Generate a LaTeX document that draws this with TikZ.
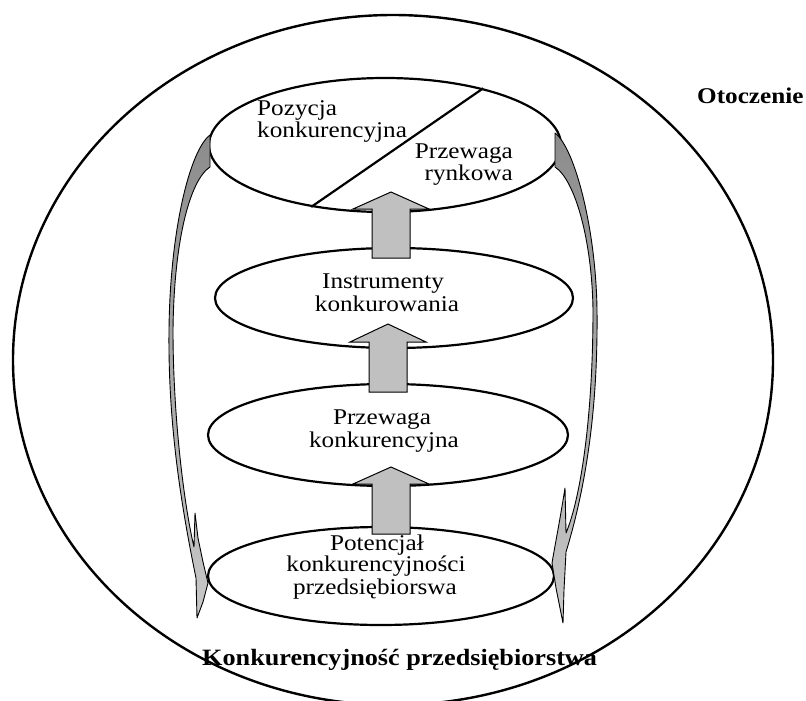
\documentclass[tikz,border=0pt]{standalone}
\usepackage{fontspec}
\setmainfont{Liberation Serif}[FakeStretch=1.12]
\usetikzlibrary{shapes.geometric}
\definecolor{arrowgray}{RGB}{192,192,192}
\definecolor{sidetop}{RGB}{140,140,140}
\definecolor{sidebot}{RGB}{200,200,200}
\tikzset{
  oval/.style={draw, ellipse, line width=2.2pt, inner sep=0pt},
  lbl/.style={inner sep=0pt, font=\fontsize{22.5}{22}\selectfont, anchor=base},
  heading/.style={inner sep=0pt, font=\bfseries\fontsize{22.5}{24}\selectfont, anchor=base west},
  blockarrow/.style={fill=arrowgray, draw=black, line width=1pt, line join=miter},
  sidearrow/.style={top color=sidetop, bottom color=sidebot, draw=black, line width=0.9pt, line join=round},
}
\begin{document}
\begin{tikzpicture}[x=1pt,y=-1pt]
\useasboundingbox (0,0) rectangle (806,701);

% environment
\node[oval, line width=2.4pt, minimum width=760, minimum height=690] (env) at (393,360) {};

% ovals
\node[oval, minimum width=352, minimum height=134] (top) at (385,145) {};
\node[oval, minimum width=358, minimum height=100] (instr) at (394,298) {};
\node[oval, minimum width=360, minimum height=102] (adv) at (388,435) {};
\node[oval, minimum width=346, minimum height=98] (pot) at (381,576) {};

% dividing line in top oval
\draw[line width=2.2pt] (top.30.6) -- (top.220.3);

% block arrows
\filldraw[blockarrow] (372,258) -- (372,209) -- (353,209) -- (391,192) -- (429,209) -- (410,209) -- (410,258) -- cycle;
\filldraw[blockarrow] (369,392) -- (369,342) -- (350,342) -- (388,324) -- (426,342) -- (407,342) -- (407,392) -- cycle;
\filldraw[blockarrow] (372,534) -- (372,484) -- (353,484) -- (391,467) -- (429,484) -- (410,484) -- (410,534) -- cycle;

% curved side arrows
\path[sidearrow] (555,133) .. controls (575,148) and (596,230) .. (597,310)
  .. controls (598,400) and (588,480) .. (566,552) -- (564,590) -- (563,623)
  -- (556,588) -- (552,563) .. controls (555,545) and (560,520) .. (565,488)
  -- (566,533) .. controls (580,500) and (593,420) .. (593,310)
  .. controls (592,240) and (575,180) .. (555,167) -- cycle;
\path[sidearrow] (210,135) .. controls (190,150) and (170,230) .. (169,330)
  .. controls (168,420) and (180,500) .. (196,578) -- (197,618)
  -- (203,602) -- (208,583) -- (203,562) -- (198,538) -- (195,513)
  -- (194,547) .. controls (185,510) and (173,420) .. (173,330)
  .. controls (174,240) and (190,180) .. (210,167) -- cycle;

% texts
\node[lbl, anchor=base west] (t1a) at (257,115) {Pozycja};
\node[lbl, anchor=base west] (t1b) at (257,137) {konkurencyjna};
\node[lbl, anchor=base east] (t2a) at (513,158) {Przewaga};
\node[lbl, anchor=base east] (t2b) at (513,180) {rynkowa};
\node[lbl] (t3a) at (383,288) {Instrumenty};
\node[lbl] (t3b) at (387,311) {konkurowania};
\node[lbl] (t4a) at (382,424) {Przewaga};
\node[lbl] (t4b) at (384,447) {konkurencyjna};
\node[lbl] (t5a) at (377,550) {Potencjał};
\node[lbl] (t5b) at (376,571) {konkurencyjności};
\node[lbl] (t5c) at (375,594) {przedsiębiorswa};
\node[heading] (oto) at (697,103) {Otoczenie};
\node[heading, font=\bfseries\fontsize{23.4}{24}\selectfont] (kp) at (202,665) {Konkurencyjność przedsiębiorstwa};
\end{tikzpicture}
\end{document}
